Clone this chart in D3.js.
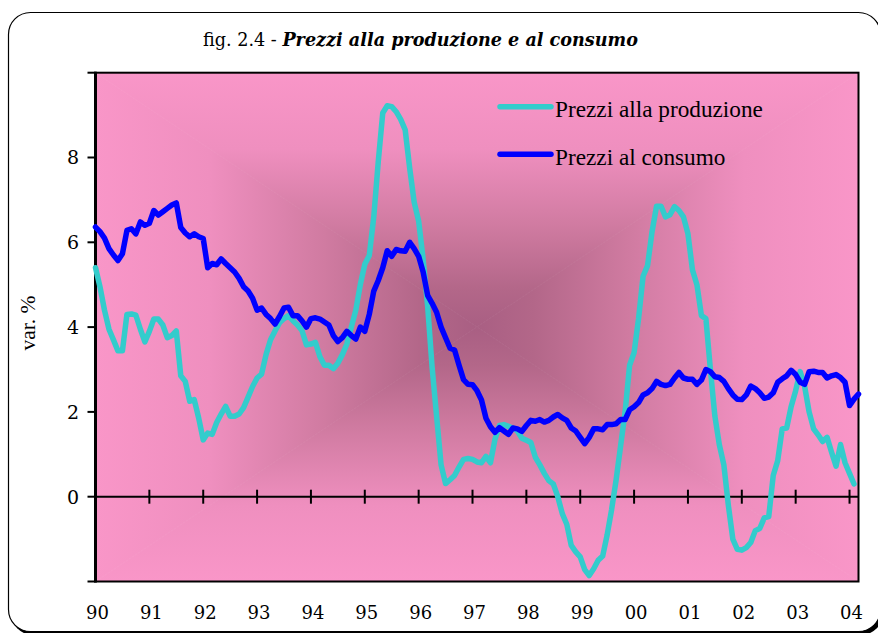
<!DOCTYPE html>
<html>
<head>
<meta charset="utf-8">
<script src="https://cdn.jsdelivr.net/npm/d3@7/dist/d3.min.js"></script>
<style>
  html, body { margin: 0; padding: 0; background: #ffffff; }
  svg { display: block; }
</style>
</head>
<body>
<svg id="chart" width="878" height="633"></svg>
<script>
// ---------------- DATA ----------------
const yearLabels = ["90","91","92","93","94","95","96","97","98","99","00","01","02","03","04"];
const yTickValues = [-2, 0, 2, 4, 6, 8, 10];
const yTickLabels = ["", "0", "2", "4", "6", "8", ""];
const seriesNames = ["Prezzi alla produzione", "Prezzi al consumo"];
const seriesColors = ["#33CCCC", "#0000FF"];

// monthly, Jan 1990 onwards
const produzione = [
  5.40, 4.95, 4.40, 3.95, 3.70, 3.44, 3.44, 4.30, 4.31, 4.28, 3.95, 3.65,
  3.90, 4.19, 4.19, 4.05, 3.75, 3.80, 3.91, 2.85, 2.72, 2.25, 2.29, 1.85,
  1.34, 1.50, 1.47, 1.75, 1.95, 2.13, 1.90, 1.90, 1.95, 2.10, 2.35, 2.60,
  2.80, 2.89, 3.35, 3.70, 3.91, 4.10, 4.20, 4.27, 4.15, 4.05, 3.92, 3.58,
  3.60, 3.64, 3.30, 3.10, 3.10, 3.02, 3.15, 3.35, 3.60, 4.00, 4.40, 5.00,
  5.48, 5.69, 6.60, 7.90, 9.05, 9.22, 9.20, 9.08, 8.90, 8.65, 7.75, 6.95,
  6.50, 5.60, 4.50, 3.05, 1.90, 0.75, 0.31, 0.40, 0.50, 0.70, 0.88, 0.90,
  0.88, 0.82, 0.80, 0.95, 0.80, 1.35, 1.68, 1.70, 1.66, 1.62, 1.55, 1.38,
  1.33, 1.28, 0.93, 0.75, 0.55, 0.38, 0.30, 0.00, -0.40, -0.65, -1.15, -1.30,
  -1.42, -1.72, -1.86, -1.70, -1.50, -1.40, -0.90, -0.30, 0.40, 1.20, 2.00, 3.10,
  3.40, 4.20, 5.20, 5.45, 6.25, 6.85, 6.85, 6.60, 6.65, 6.84, 6.75, 6.60,
  6.20, 5.35, 5.00, 4.27, 4.20, 3.00, 1.90, 1.22, 0.75, -0.20, -1.00, -1.24,
  -1.26, -1.20, -1.08, -0.80, -0.75, -0.50, -0.47, 0.50, 0.85, 1.60, 1.62, 2.13,
  2.50, 2.95, 2.60, 2.00, 1.60, 1.46, 1.30, 1.40, 1.05, 0.72, 1.23, 0.80,
  0.55, 0.30
];
const consumo = [
  6.36, 6.25, 6.10, 5.85, 5.70, 5.57, 5.73, 6.28, 6.32, 6.20, 6.48, 6.40,
  6.45, 6.75, 6.64, 6.72, 6.80, 6.88, 6.93, 6.35, 6.22, 6.13, 6.20, 6.13,
  6.09, 5.40, 5.50, 5.47, 5.61, 5.50, 5.40, 5.30, 5.15, 4.95, 4.85, 4.68,
  4.40, 4.45, 4.30, 4.20, 4.07, 4.25, 4.45, 4.47, 4.27, 4.27, 4.15, 4.00,
  4.20, 4.22, 4.19, 4.12, 4.05, 3.80, 3.66, 3.75, 3.90, 3.80, 3.72, 4.00,
  3.90, 4.30, 4.85, 5.10, 5.40, 5.80, 5.67, 5.83, 5.80, 5.79, 6.00, 5.85,
  5.67, 5.30, 4.75, 4.56, 4.35, 4.00, 3.75, 3.50, 3.46, 3.10, 2.76, 2.65,
  2.64, 2.50, 2.28, 1.85, 1.65, 1.52, 1.63, 1.55, 1.47, 1.62, 1.60, 1.54,
  1.68, 1.80, 1.78, 1.82, 1.76, 1.80, 1.88, 1.94, 1.86, 1.80, 1.62, 1.55,
  1.40, 1.25, 1.40, 1.60, 1.60, 1.58, 1.70, 1.70, 1.72, 1.82, 1.82, 2.05,
  2.12, 2.22, 2.40, 2.45, 2.55, 2.72, 2.65, 2.62, 2.65, 2.80, 2.93, 2.80,
  2.77, 2.77, 2.65, 2.75, 3.00, 2.95, 2.83, 2.81, 2.72, 2.55, 2.40, 2.30,
  2.29, 2.40, 2.61, 2.55, 2.45, 2.32, 2.35, 2.45, 2.70, 2.78, 2.85, 2.98,
  2.88, 2.70, 2.65, 2.95, 2.96, 2.93, 2.93, 2.80, 2.85, 2.88, 2.81, 2.70,
  2.15, 2.30, 2.42
];
const nCategories = 171; // Jan 1990 .. Mar 2004
const titlePlain = "fig. 2.4 - ";
const titleBold = "Prezzi alla produzione e al consumo";
const yAxisTitle = "var. %";

// ---------------- LAYOUT ----------------
const svg = d3.select("#chart");
const L = 95.5, R = 858.5, T = 72.7, B = 581.5;
const cx = (L + R) / 2, cy = (T + B) / 2;

const x = d3.scaleLinear().domain([0, nCategories - 1]).range([L, R]);
const y = d3.scaleLinear().domain([-2, 10]).range([B, T]);

const defs = svg.append("defs");

// frame with shadow
svg.append("rect").attr("x", 11).attr("y", 15).attr("width", 872).attr("height", 620)
  .attr("rx", 22).attr("fill", "#000");
svg.append("rect").attr("x", 8.5).attr("y", 12.5).attr("width", 872).attr("height", 619)
  .attr("rx", 22).attr("fill", "#fff").attr("stroke", "#000").attr("stroke-width", 1.2);

// rectangular "from center" gradient built of four triangles
const gradStops = [
  [0.00, "#F996C8"],
  [0.30, "#EF8FBF"],
  [0.60, "#D07BA1"],
  [0.85, "#B36789"],
  [1.00, "#A95F83"]
];
function grad(id, x1, y1, x2, y2) {
  const g = defs.append("linearGradient").attr("id", id)
    .attr("gradientUnits", "userSpaceOnUse")
    .attr("x1", x1).attr("y1", y1).attr("x2", x2).attr("y2", y2);
  gradStops.forEach(([o, c]) => g.append("stop").attr("offset", o).attr("stop-color", c));
}
grad("gT", cx, T, cx, cy);
grad("gB", cx, B, cx, cy);
grad("gL", L, cy, cx, cy);
grad("gR", R, cy, cx, cy);
const tri = [
  ["gT", [[L, T], [R, T], [cx, cy]]],
  ["gB", [[L, B], [R, B], [cx, cy]]],
  ["gL", [[L, T], [L, B], [cx, cy]]],
  ["gR", [[R, T], [R, B], [cx, cy]]]
];
const bg = svg.append("g");
tri.forEach(([id, pts]) => {
  bg.append("polygon").attr("points", pts.map(p => p.join(",")).join(" "))
    .attr("fill", `url(#${id})`).attr("stroke", `url(#${id})`).attr("stroke-width", 0.8);
});

// plot border
svg.append("rect").attr("x", L).attr("y", T).attr("width", R - L).attr("height", B - T)
  .attr("fill", "none").attr("stroke", "#000").attr("stroke-width", 2);

// y axis
const yAxis = svg.append("g");
yAxis.append("line").attr("x1", L).attr("x2", L).attr("y1", T - 1).attr("y2", B + 1)
  .attr("stroke", "#000").attr("stroke-width", 3);
yTickValues.forEach((v, k) => {
  yAxis.append("line").attr("x1", L - 8).attr("x2", L).attr("y1", y(v)).attr("y2", y(v))
    .attr("stroke", "#000").attr("stroke-width", 2);
  if (yTickLabels[k]) {
    yAxis.append("text").attr("x", 79).attr("y", y(v)).attr("dy", "0.36em")
      .attr("text-anchor", "end")
      .attr("font-family", "'DejaVu Serif', serif").attr("font-size", 19)
      .attr("fill", "#000").text(yTickLabels[k]);
  }
});

// x axis at zero
const xAxis = svg.append("g");
xAxis.append("line").attr("x1", L).attr("x2", R).attr("y1", y(0)).attr("y2", y(0))
  .attr("stroke", "#000").attr("stroke-width", 2);
yearLabels.forEach((lab, k) => {
  const xi = x(k * 12);
  if (k > 0) {
    xAxis.append("line").attr("x1", xi).attr("x2", xi).attr("y1", y(0) - 7).attr("y2", y(0) + 7)
      .attr("stroke", "#000").attr("stroke-width", 2);
  }
  xAxis.append("text").attr("x", xi + 2).attr("y", 619)
    .attr("text-anchor", "middle")
    .attr("font-family", "'DejaVu Serif', serif").attr("font-size", 18)
    .attr("fill", "#000").text(lab);
});

// lines
const line = d3.line().x((d, i) => x(i)).y(d => y(d));
[produzione, consumo].forEach((s, k) => {
  svg.append("path").datum(s).attr("d", line)
    .attr("fill", "none").attr("stroke", seriesColors[k]).attr("stroke-width", 5.5)
    .attr("stroke-linejoin", "round").attr("stroke-linecap", "round");
});

// legend
const legY = [106.7, 154.3];
const legTargetW = 208;
const legTexts = [];
seriesNames.forEach((name, k) => {
  svg.append("line").attr("x1", 500).attr("x2", 551).attr("y1", legY[k]).attr("y2", legY[k])
    .attr("stroke", seriesColors[k]).attr("stroke-width", 5.5).attr("stroke-linecap", "round");
  legTexts.push(svg.append("text").attr("x", 555).attr("y", legY[k] + 10.5)
    .attr("font-family", "'Liberation Serif', serif").attr("font-size", 21)
    .attr("fill", "#000").text(name));
});
const lw = legTexts[0].node().getComputedTextLength();
const legFs = Math.min(24, 21 * legTargetW / lw);
legTexts.forEach(t => t.attr("font-size", legFs));

// y axis title
svg.append("text").attr("transform", `translate(35,${cy - 4}) rotate(-90)`)
  .attr("text-anchor", "middle")
  .attr("font-family", "'Liberation Serif', serif").attr("font-size", 21.5)
  .attr("fill", "#000").text(yAxisTitle);

// title
const title = svg.append("text").attr("x", 420.5).attr("y", 46)
  .attr("text-anchor", "middle")
  .attr("font-family", "'DejaVu Serif', serif").attr("font-size", 17).attr("fill", "#000");
title.append("tspan").text(titlePlain);
title.append("tspan").attr("font-weight", "bold").attr("font-style", "italic").text(titleBold);
const tw = title.node().getComputedTextLength();
title.attr("font-size", 17 * 435 / tw);
</script>
</body>
</html>
